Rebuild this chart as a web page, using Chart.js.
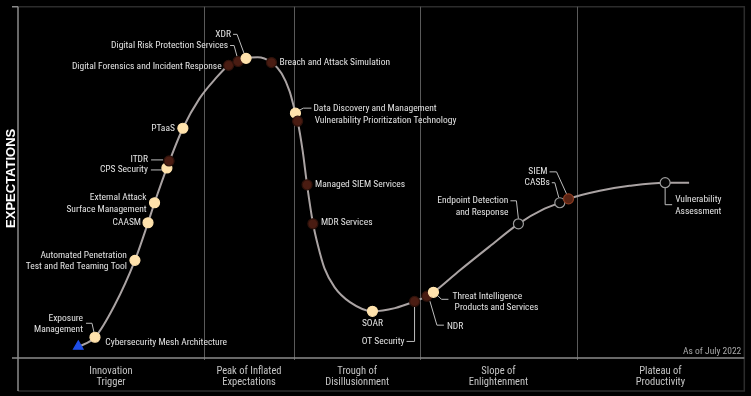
<!DOCTYPE html>
<html>
<head>
<meta charset="utf-8">
<script src="https://cdn.jsdelivr.net/npm/chart.js@4"></script>
<style>
  html, body { margin: 0; padding: 0; background: #000; }
  #wrap { width: 751px; height: 396px; }
</style>
</head>
<body>
<div id="wrap"><canvas id="hype" width="751" height="396"></canvas></div>
<script>
// hype curve (time 0-100, expectations 0-100)
const curveX = [8.25, 10.6, 13.3, 16.1, 17.9, 18.8, 20.5, 22.7, 25.0, 27.1, 29.0, 31.4, 33.0, 34.9, 36.3, 37.4, 38.2, 38.5, 39.2, 39.8, 40.6, 41.3, 42.2, 43.6, 45.7, 48.8, 51.9, 54.6, 56.3, 57.2, 60.8, 64.9, 68.9, 72.5, 74.6, 75.8, 80.1, 84.2, 89.1, 92.4];
const curveY = [3.1, 5.9, 15.0, 27.8, 38.5, 44.2, 54.1, 65.4, 73.9, 79.3, 83.3, 85.3, 85.6, 84.1, 81.0, 75.9, 69.7, 67.4, 58.9, 49.3, 38.5, 32.0, 25.5, 20.1, 15.9, 13.3, 14.2, 16.1, 17.6, 18.7, 24.9, 31.7, 38.2, 42.5, 44.2, 45.3, 47.6, 49.0, 49.9, 49.9];

// technologies on the curve
const techNames = [
  'Cybersecurity Mesh Architecture', 'Exposure Management', 'Automated Penetration Test and Red Teaming Tool',
  'CAASM', 'External Attack Surface Management', 'CPS Security', 'ITDR', 'PTaaS',
  'Digital Forensics and Incident Response', 'Digital Risk Protection Services', 'XDR',
  'Breach and Attack Simulation', 'Data Discovery and Management', 'Vulnerability Prioritization Technology',
  'Managed SIEM Services', 'MDR Services', 'SOAR', 'OT Security', 'NDR',
  'Threat Intelligence Products and Services', 'Endpoint Detection and Response', 'CASBs', 'SIEM',
  'Vulnerability Assessment'
];
const techX = [8.3, 10.6, 16.1, 17.9, 18.8, 20.5, 20.8, 22.7, 29.0, 30.3, 31.4, 34.9, 38.2, 38.5, 39.8, 40.6, 48.8, 54.6, 56.3, 57.2, 68.9, 74.6, 75.8, 89.1];
const techY = [3.3, 5.9, 27.8, 38.5, 44.2, 54.1, 56.1, 65.4, 83.3, 84.4, 85.3, 84.1, 69.7, 67.4, 49.3, 38.2, 13.3, 16.1, 17.6, 18.7, 38.2, 44.2, 45.3, 49.9];
// marker group: 0 = obsolete before plateau, 1 = light, 2 = dark, 3 = hollow, 4 = rust
const techGroup = [0, 1, 1, 1, 1, 1, 2, 1, 2, 2, 1, 2, 1, 2, 2, 2, 1, 2, 2, 1, 3, 3, 4, 3];

const phaseBounds = [0, 25.6, 38.0, 55.4, 76.9, 100];
const phaseLabels = [['Innovation', 'Trigger'], ['Peak of Inflated', 'Expectations'], ['Trough of', 'Disillusionment'], ['Slope of', 'Enlightenment'], ['Plateau of', 'Productivity']];

const yTitle = 'EXPECTATIONS';
const asOf = 'As of July 2022';

// marker styles per group
const groupStyle = [
  { style: 'triangle', bg: '#1f4ee8', border: '#1f4ee8', r: 5.5 },
  { style: 'circle', bg: '#ffe2ac', border: '#ffe2ac', r: 5 },
  { style: 'circle', bg: '#4a1c12', border: '#2e120b', r: 5 },
  { style: 'circle', bg: '#050505', border: '#9b9b9b', r: 5 },
  { style: 'circle', bg: '#5a2414', border: '#8a3b22', r: 5 }
];

// label placement (pixel offsets from the marker), kept apart from the data
const labelLayout = {
  'Cybersecurity Mesh Architecture': { lines: ['Cybersecurity Mesh Architecture'], dx: 27, dy: -4, align: 'left' },
  'Exposure Management': { lines: ['Exposure', 'Management'], dx: -12, dy: -19, align: 'right', leader: [[-9, -14], [-3, -14], [-1, -5]] },
  'Automated Penetration Test and Red Teaming Tool': { lines: ['Automated Penetration', 'Test and Red Teaming Tool'], dx: -8, dy: -5, align: 'right' },
  'CAASM': { lines: ['CAASM'], dx: -7, dy: 0, align: 'right' },
  'External Attack Surface Management': { lines: ['External Attack', 'Surface Management'], dx: -8, dy: -5, align: 'right' },
  'CPS Security': { lines: ['CPS Security'], dx: -19, dy: 2, align: 'right', leader: [[-16, 2], [-5, 2]] },
  'ITDR': { lines: ['ITDR'], dx: -21, dy: -1, align: 'right', leader: [[-18, -1], [-6, -1]] },
  'PTaaS': { lines: ['PTaaS'], dx: -8, dy: 0, align: 'right' },
  'Digital Forensics and Incident Response': { lines: ['Digital Forensics and Incident Response'], dx: -7, dy: 1, align: 'right' },
  'Digital Risk Protection Services': { lines: ['Digital Risk Protection Services'], dx: -10, dy: -16, align: 'right', leader: [[-8, -16], [-4, -16], [-1, -5]] },
  'XDR': { lines: ['XDR'], dx: -15, dy: -24, align: 'right', leader: [[-13, -24], [-9, -24], [-2, -5]] },
  'Breach and Attack Simulation': { lines: ['Breach and Attack Simulation'], dx: 8, dy: 0, align: 'left' },
  'Data Discovery and Management': { lines: ['Data Discovery and Management'], dx: 18, dy: -5, align: 'left', leader: [[4, -3], [8, -5], [16, -5]] },
  'Vulnerability Prioritization Technology': { lines: ['Vulnerability Prioritization Technology'], dx: 17, dy: -1, align: 'left' },
  'Managed SIEM Services': { lines: ['Managed SIEM Services'], dx: 8, dy: 0, align: 'left' },
  'MDR Services': { lines: ['MDR Services'], dx: 8, dy: -1, align: 'left' },
  'SOAR': { lines: ['SOAR'], dx: 0, dy: 12, align: 'center' },
  'OT Security': { lines: ['OT Security'], dx: -10, dy: 40, align: 'right', leader: [[-8, 40], [0, 40], [0, 4]] },
  'NDR': { lines: ['NDR'], dx: 20, dy: 30, align: 'left', leader: [[3, 5], [10, 29], [17, 29]] },
  'Threat Intelligence Products and Services': { lines: ['Threat Intelligence', ' Products and Services'], dx: 19, dy: 4, align: 'left', leader: [[4, 3], [8, 7], [15, 7]] },
  'Endpoint Detection and Response': { lines: ['Endpoint Detection', 'and Response'], dx: -10, dy: -23, align: 'right', leader: [[-8, -23], [-2, -23], [0, -5]] },
  'CASBs': { lines: ['CASBs'], dx: -10, dy: -20, align: 'right', leader: [[-8, -20], [-5, -20], [-1, -5]] },
  'SIEM': { lines: ['SIEM'], dx: -21, dy: -27, align: 'right', leader: [[-19, -27], [-12, -27], [-2, -5]] },
  'Vulnerability Assessment': { lines: ['Vulnerability', 'Assessment'], dx: 10, dy: 17, align: 'left', leader: [[0, 5], [0, 22], [7, 22]] }
};

const narrow = "'Liberation Sans Narrow', 'Roboto Condensed', 'Liberation Sans', sans-serif";
const labelFont = '9.5px ' + narrow;

const framePlugin = {
  id: 'frame',
  beforeDraw(chart) {
    const { ctx, chartArea: a, scales: { x } } = chart;
    const bandBottom = a.bottom + 33;
    ctx.save();
    ctx.fillStyle = '#000';
    ctx.fillRect(0, 0, chart.width, chart.height);

    // outer frame
    ctx.strokeStyle = '#2c2c2c';
    ctx.lineWidth = 1.5;
    ctx.beginPath();
    ctx.moveTo(a.left, a.top);
    ctx.lineTo(a.right, a.top);
    ctx.lineTo(a.right, bandBottom);
    ctx.lineTo(a.left, bandBottom);
    ctx.stroke();

    // phase dividers
    ctx.strokeStyle = '#5a5a5a';
    ctx.lineWidth = 1;
    phaseBounds.slice(1, -1).forEach((b) => {
      const px = Math.round(x.getPixelForValue(b)) + 0.5;
      ctx.beginPath();
      ctx.moveTo(px, a.top);
      ctx.lineTo(px, a.bottom + 2);
      ctx.stroke();
    });

    // axes
    ctx.strokeStyle = '#8a8a8a';
    ctx.lineWidth = 1.5;
    ctx.beginPath();
    ctx.moveTo(a.left, a.top);
    ctx.lineTo(a.left, bandBottom);
    ctx.moveTo(a.left - 6, a.bottom);
    ctx.lineTo(a.right, a.bottom);
    ctx.moveTo(a.left - 6, a.top);
    ctx.lineTo(a.left, a.top);
    ctx.stroke();

    // phase names
    ctx.fillStyle = '#c4c4c4';
    ctx.font = '10.5px ' + narrow;
    ctx.textAlign = 'center';
    ctx.textBaseline = 'middle';
    phaseLabels.forEach((lines, i) => {
      const cx = (x.getPixelForValue(phaseBounds[i]) + x.getPixelForValue(phaseBounds[i + 1])) / 2;
      lines.forEach((t, j) => ctx.fillText(t, cx, a.bottom + 13 + j * 11.5));
    });

    // note and axis title
    ctx.fillStyle = '#a8a8a8';
    ctx.font = '9.5px ' + narrow;
    ctx.textAlign = 'right';
    ctx.fillText(asOf, a.right - 3, a.bottom - 6);

    ctx.translate(11, (a.top + a.bottom) / 2 - 4);
    ctx.rotate(-Math.PI / 2);
    ctx.fillStyle = '#fff';
    ctx.font = "bold 13px 'Liberation Sans', Arial, sans-serif";
    ctx.textAlign = 'center';
    ctx.fillText(yTitle, 0, 0);
    ctx.restore();
  }
};

const labelPlugin = {
  id: 'techLabels',
  beforeDatasetsDraw(chart) {
    const { ctx, scales: { x, y } } = chart;
    ctx.save();
    ctx.strokeStyle = '#bdbdbd';
    ctx.lineWidth = 1;
    techNames.forEach((name, i) => {
      const lay = labelLayout[name];
      if (!lay || !lay.leader) return;
      const px = x.getPixelForValue(techX[i]);
      const py = y.getPixelForValue(techY[i]);
      ctx.beginPath();
      lay.leader.forEach(([dx, dy], k) => {
        if (k === 0) ctx.moveTo(px + dx, py + dy);
        else ctx.lineTo(px + dx, py + dy);
      });
      ctx.stroke();
    });
    ctx.restore();
  },
  afterDatasetsDraw(chart) {
    const { ctx, scales: { x, y } } = chart;
    ctx.save();
    ctx.fillStyle = '#e2e2e2';
    ctx.font = labelFont;
    ctx.textBaseline = 'middle';
    techNames.forEach((name, i) => {
      const lay = labelLayout[name];
      if (!lay) return;
      const px = x.getPixelForValue(techX[i]);
      const py = y.getPixelForValue(techY[i]);
      ctx.textAlign = lay.align;
      lay.lines.forEach((t, j) => ctx.fillText(t, px + lay.dx, py + lay.dy + j * 11.5));
    });
    ctx.restore();
  }
};

new Chart(document.getElementById('hype'), {
  type: 'scatter',
  data: {
    datasets: [
      {
        data: curveX.map((v, i) => ({ x: v, y: curveY[i] })),
        showLine: true,
        borderColor: '#aaa3a3',
        borderWidth: 2,
        pointRadius: 0,
        cubicInterpolationMode: 'monotone',
        order: 2,
      },
      {
        data: techX.map((v, i) => ({ x: v, y: techY[i] })),
        pointStyle: techGroup.map((g) => groupStyle[g].style),
        pointRadius: techGroup.map((g) => groupStyle[g].r),
        pointBackgroundColor: techGroup.map((g) => groupStyle[g].bg),
        pointBorderColor: techGroup.map((g) => groupStyle[g].border),
        pointBorderWidth: 1.2,
        order: 1,
      },
    ],
  },
  options: {
    responsive: false,
    animation: false,
    devicePixelRatio: 1,
    layout: { padding: { left: 18, right: 6, top: 5, bottom: 38 } },
    scales: {
      x: { type: 'linear', min: 0, max: 100, display: false },
      y: { type: 'linear', min: 0, max: 100, display: false },
    },
    plugins: { legend: { display: false }, tooltip: { enabled: false } },
  },
  plugins: [framePlugin, labelPlugin],
});
</script>
</body>
</html>
